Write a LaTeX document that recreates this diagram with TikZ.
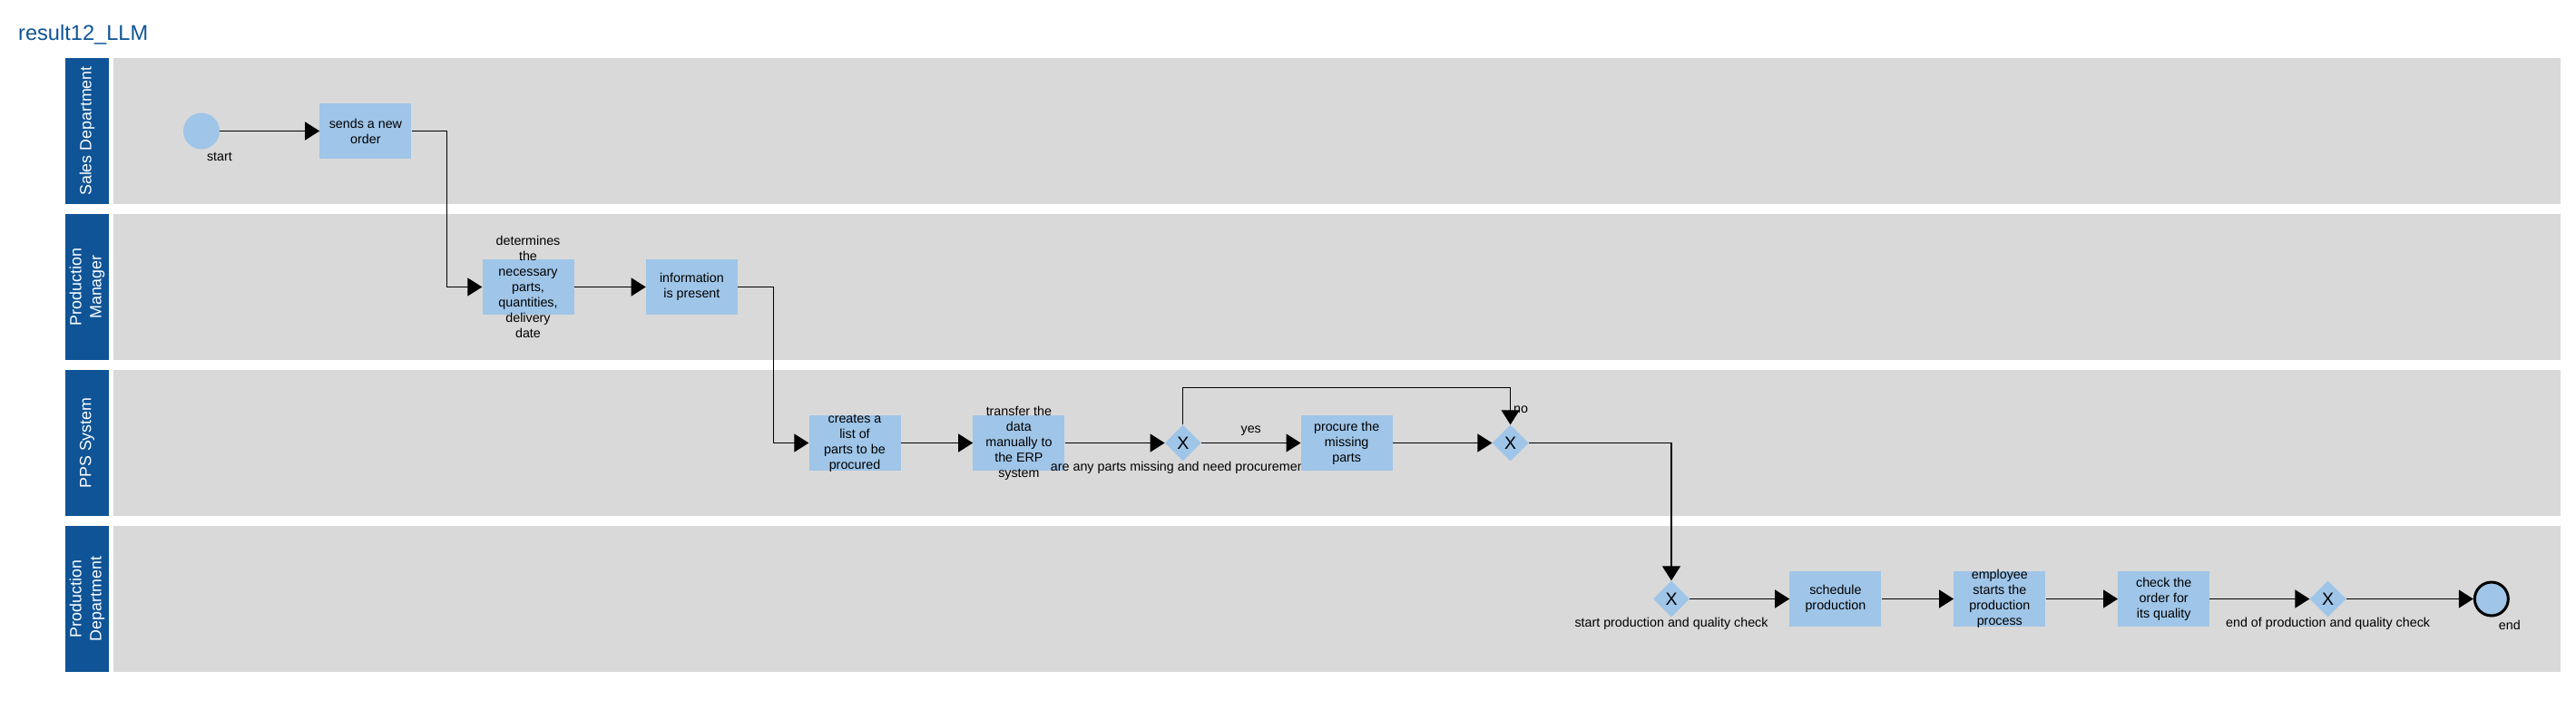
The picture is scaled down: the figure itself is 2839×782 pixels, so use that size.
\documentclass[tikz,border=0pt]{standalone}
\usepackage{fontspec}
\setmainfont{Liberation Sans}
\usepackage{tikz}
\usetikzlibrary{positioning,shapes.geometric,arrows.meta,calc}
\definecolor{laneblue}{HTML}{0F5496}
\definecolor{lanegray}{HTML}{D9D9D9}
\definecolor{taskblue}{HTML}{9FC5E8}

\begin{document}
\begin{tikzpicture}[x = 1pt, y = -1pt,
    txt/.style = { font = \fontsize{14.3}{17}\selectfont },
    every node/.style = { txt },
    lanehead/.style = { fill = laneblue, text = white, rotate = 90, align = center, minimum width = 161pt, minimum height = 48pt, inner sep = 0pt, font = \fontsize{17.8}{22}\selectfont },
    lanebody/.style = { fill = lanegray, minimum width = 2697pt, minimum height = 161pt, inner sep = 0pt },
    task/.style = { fill = taskblue, minimum width = 101pt, minimum height = 61pt, inner sep = 0pt },
    tasktext/.style = { txt, align = center, inner sep = 0pt },
    gateway/.style = { diamond, fill = taskblue, minimum width = 40pt, minimum height = 40pt, inner sep = 0pt, font = \fontsize{19.5}{23}\selectfont },
    gwlabel/.style = { txt, inner sep = 0pt },
    event/.style = { circle, fill = taskblue, minimum size = 40pt, inner sep = 0pt },
    endevent/.style = { event, draw = black, line width = 3pt, minimum size = 37pt },
    evlabel/.style = { txt, inner sep = 0pt, xshift = 20pt, yshift = -3pt },
    edgelabel/.style = { txt, inner sep = 3pt },
    flow/.style = { line width = 1.2pt, -{Triangle[length = 16pt, width = 20pt]} }]

    \useasboundingbox (0,0) rectangle (2839,782);

    \node [anchor = base west, inner sep = 0pt, text = laneblue, font = \fontsize{23.6}{28}\selectfont] (title) at (20,44.3) {result12\_LLM};

    \node [lanebody] (body1) at (1473.5,144.5) {};
    \node [lanebody] (body2) at (1473.5,316.5) {};
    \node [lanebody] (body3) at (1473.5,488.5) {};
    \node [lanebody] (body4) at (1473.5,660.5) {};
    \node [lanehead] (sales) at (96,144.5) {Sales Department};
    \node [lanehead] (manager) at (96,316.5) {Production\\Manager};
    \node [lanehead] (pps) at (96,488.5) {PPS System};
    \node [lanehead] (department) at (96,660.5) {Production\\Department};

    \node [event, label = {[evlabel]below:start}] (start) at (222,144.5) {};
    \node [task, right = 110pt of start, label = {[tasktext]center:{sends a new\\order}}] (order) {};

    \node [task, label = {[tasktext]center:{determines\\the\\necessary\\parts,\\quantities,\\delivery\\date}}] (determine) at (582,316.5) {};
    \node [task, right = 79pt of determine, label = {[tasktext]center:{information\\is present}}] (info) {};

    \node [task, label = {[tasktext]center:{creates a\\list of\\parts to be\\procured}}] (partlist) at (942,488.5) {};
    \node [task, right = 79.5pt of partlist, label = {[tasktext]center:{transfer the\\data\\manually to\\the ERP\\system}}] (transfer) {};
    \node [gateway, right = 110pt of transfer, label = {[gwlabel]below:{are any parts missing and need procurement?}}] (missing) {X};
    \node [task, right = 109.5pt of missing, label = {[tasktext]center:{procure the\\missing\\parts}}] (procure) {};
    \node [gateway, right = 109.5pt of procure] (merge) {X};

    \node [gateway, label = {[gwlabel]below:{start production and quality check}}] (startprod) at (1842,660.5) {X};
    \node [task, right = 110pt of startprod, label = {[tasktext]center:{schedule\\production}}] (schedule) {};
    \node [task, right = 79.5pt of schedule, label = {[tasktext]center:{employee\\starts the\\production\\process}}] (employee) {};
    \node [task, right = 79.5pt of employee, label = {[tasktext]center:{check the\\order for\\its quality}}] (check) {};
    \node [gateway, right = 110pt of check, label = {[gwlabel]below:{end of production and quality check}}] (endprod) {X};
    \node [endevent, right = 140pt of endprod, label = {[evlabel]below:end}] (finish) {};

    \draw [flow] (start) -- (order);
    \draw [flow] (order.east) -| ($(order.east)!.5!(determine.west)$) |- (determine.west);
    \draw [flow] (determine) -- (info);
    \draw [flow] (info.east) -| ($(info.east)!.5!(partlist.west)$) |- (partlist.west);
    \draw [flow] (partlist) -- (transfer);
    \draw [flow] (transfer) -- (missing);
    \draw [flow] (missing) -- node [edgelabel, above = 4pt] {yes} (procure);
    \draw [flow] (missing.north) -- ++(0,-40.5) -| node [edgelabel, pos = .8, right] {no} (merge.north);
    \draw [flow] (procure) -- (merge);
    \draw [flow] (merge.east) -| (startprod.north);
    \draw [flow] (startprod) -- (schedule);
    \draw [flow] (schedule) -- (employee);
    \draw [flow] (employee) -- (check);
    \draw [flow] (check) -- (endprod);
    \draw [flow] (endprod) -- (finish);

\end{tikzpicture}
\end{document}
